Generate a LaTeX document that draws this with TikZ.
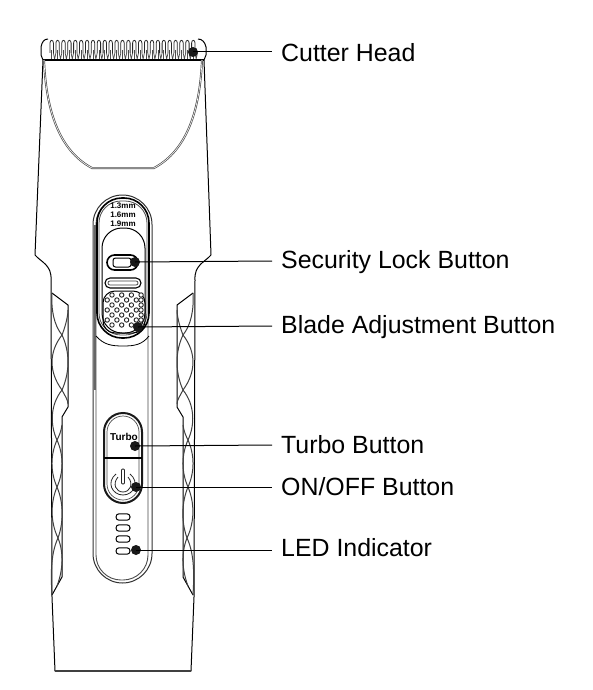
\documentclass[tikz,border=0pt]{standalone}
\usepackage{fontspec}
\setmainfont{Liberation Sans}
\tikzset{
  ln/.style={draw=black,line width=1pt},
  gr/.style={draw=black!75,line width=1pt},
  pointdot/.style={circle,fill=black!90,draw=none,inner sep=0pt,minimum size=10pt},
  leader/.style={draw=black,line width=1pt},
  lbl/.style={anchor=west,inner xsep=9pt,inner ysep=0pt,font=\fontsize{24.9}{26}\selectfont,text height=17pt,text depth=1pt},
  small/.style={inner sep=0pt,font=\bfseries\fontsize{8}{9}\selectfont},
  hole/.style={draw=black!85,line width=0.9pt,fill=white}
}
\newcommand{\gripside}{%
  \draw[ln] (52,293) -- (68,305) -- (68,407) -- (62,417) -- (62,577) -- (52,595);
  \draw[gr] (52,293) .. controls (51,310) and (54,325) .. (62,335)
     .. controls (48.7,352) and (48.7,372) .. (62,390)
     .. controls (50,405) and (50,425) .. (57,440)
     .. controls (50.3,455) and (50.3,472) .. (57,487)
     .. controls (50.3,503) and (50.3,522) .. (58,538)
     .. controls (50,555) and (51,578) .. (52,595);
  \draw[gr] (68,310) .. controls (68,318) and (64,330) .. (62,335)
     .. controls (70,352) and (70,372) .. (62,390)
     .. controls (65,396) and (68,400) .. (68,404);
  \draw[gr] (62,425) .. controls (61,432) and (59,436) .. (57,440)
     .. controls (63.7,455) and (63.7,472) .. (57,487)
     .. controls (63.7,503) and (63.7,522) .. (58,538)
     .. controls (64,553) and (63,570) .. (57,586);
}
\begin{document}
\begin{tikzpicture}[x=1pt,y=-1pt]
\useasboundingbox (0,0) rectangle (592,690);
\fill[white] (0,0) rectangle (592,690);
% body outline
\draw[ln,line join=round]
  (48,39) .. controls (44,39) and (42,42) .. (41,47) -- (41,55) -- (43,60)
  -- (35,255) .. controls (41,262) and (52,265) .. (51,280)
  -- (52,597) -- (55,671) -- (191,671) -- (194,597) -- (195,280)
  .. controls (194,265) and (205,262) .. (211,255) -- (204,60)
  -- (206,55) -- (206,47) .. controls (205,42) and (202,39) .. (198,39);
\draw[gr,line width=1.4pt] (55,671) -- (191,671);
% cutter teeth
\foreach \i in {0,...,24} {
  \pgfmathsetmacro{\xa}{50+\i*5.9}
  \pgfmathsetmacro{\xb}{\xa+3.4}
  \pgfmathsetmacro{\xc}{\xa+1.7}
  \pgfmathsetmacro{\xd}{\xa+4.6}
  \draw[draw=black!85,line width=0.8pt] (\xa,53) -- (\xa,43) .. controls (\xa,39.5) and (\xb,39.5) .. (\xb,43) -- (\xb,53);
  \draw[draw=black!70,line width=0.7pt] (\xb,53) -- (\xd,59) -- (\xd+1.3,53);
  \draw[draw=black!70,line width=0.7pt] (\xc,50) -- (\xc,59);
}
\draw[black,line width=1.8pt] (43,60) -- (204,60);
% blade cover
\draw[draw=black!70,double=white,double distance=0.6pt,line width=0.7pt]
  (44,60) .. controls (46,108) and (58,150) .. (92,168) -- (154,168)
  .. controls (188,150) and (200,108) .. (202,60);
% grips
\gripside
\begin{scope}[xshift=245pt,xscale=-1]\gripside\end{scope}
% central panel
\draw[draw=black!80,line width=1pt,rounded corners=29.5pt] (93,195) rectangle (152,583);
\draw[draw=black!70,line width=0.9pt,rounded corners=25pt] (96,199) rectangle (148,580);
\draw[draw=black!60,line width=2pt] (94.5,225) -- (94.5,390);
% slider housing
\draw[draw=black,line width=1.6pt,rounded corners=25pt,fill=white] (97,198) rectangle (149,338);
\draw[draw=black!70,line width=0.8pt,rounded corners=22pt] (99,201) rectangle (147,335);
\draw[ln,line width=0.8pt] (96,336) .. controls (104,345) and (112,346) .. (123,346) .. controls (134,346) and (142,345) .. (149,336);
% slider
\draw[ln,rounded corners=20pt] (102,333) rectangle (145,228);
\node[small] (t1) at (123,206) {1.3mm};
\node[small] (t2) at (123,215) {1.6mm};
\node[small] (t3) at (123,224) {1.9mm};
% lock button
\draw[draw=black,line width=1.6pt,rounded corners=7.5pt] (107,255) rectangle (138,270);
\draw[ln,rounded corners=2.5pt] (113,258) rectangle (131,267);
\draw[ln,rounded corners=5pt,line width=1.1pt] (105,278) rectangle (141,288);
\draw[draw=black!75,line width=0.7pt,rounded corners=2pt] (108,281) rectangle (138,285);
% grip pad
\draw[ln,rounded corners=12pt] (103,291) -- (145,291) -- (145,333) -- (103,333) -- cycle;
\foreach \r/\yy in {0/295,1/300,2/305,3/310,4/315,5/320,6/325}{
  \foreach \c in {0,...,3}{
    \pgfmathsetmacro{\xx}{int(mod(\r,2))==0 ? 112+\c*9.7 : 107.2+\c*9.7}
    \draw[hole] (\xx,\yy) circle (2.2pt);
  }
}
\draw[hole] (141,300) circle (2.2pt) (141,310) circle (2.2pt) (141,320) circle (2.2pt);
% turbo and power
\draw[draw=black!90,line width=2pt,rounded corners=19pt] (104,413) rectangle (142,503);
\draw[draw=black!70,line width=0.7pt,rounded corners=16pt] (107,416) rectangle (139,500);
\draw[draw=black,line width=1.1pt] (104,458) -- (142,458);
\node[inner sep=0pt,font=\bfseries\fontsize{10}{10}\selectfont] (turbo) at (124,437) {Turbo};
\draw[draw=black!85,line width=0.8pt] (116,474) .. controls (106,482) and (112,495) .. (123,495) .. controls (134,495) and (140,482) .. (130,474);
\draw[draw=black!85,line width=0.8pt] (118,477) .. controls (112,484) and (116,492) .. (123,492) .. controls (130,492) and (134,484) .. (128,477);
\draw[draw=black!85,line width=0.8pt,rounded corners=1pt] (121.5,469) rectangle (124.5,484);
% LEDs
\foreach \n/\yy in {a/517,b/528,c/539,d/551}{
  \draw[draw=black,line width=1pt,rounded corners=3pt] (116,\yy-3.2) rectangle (130,\yy+3.2);
}
% pointers
\node[pointdot] (d1) at (193,52) {};
\node[pointdot] (d2) at (135,262) {};
\node[pointdot] (d3) at (138,327) {};
\node[pointdot] (d4) at (135,446) {};
\node[pointdot] (d5) at (136,487) {};
\node[pointdot] (d6) at (136,550) {};
\node[lbl,text height=21pt] (l1) at (272,52) {Cutter Head};
\node[lbl,text height=16pt] (l2) at (272,261) {Security Lock Button};
\node[lbl,text height=15pt] (l3) at (272,326) {Blade Adjustment Button};
\node[lbl] (l4) at (272,445) {Turbo Button};
\node[lbl] (l5) at (272,487) {ON/OFF Button};
\node[lbl,text height=14pt] (l6) at (272,550) {LED Indicator};
\foreach \i in {1,...,6}{ \draw[leader] (d\i.center) -- (l\i.west); }
\end{tikzpicture}
\end{document}
